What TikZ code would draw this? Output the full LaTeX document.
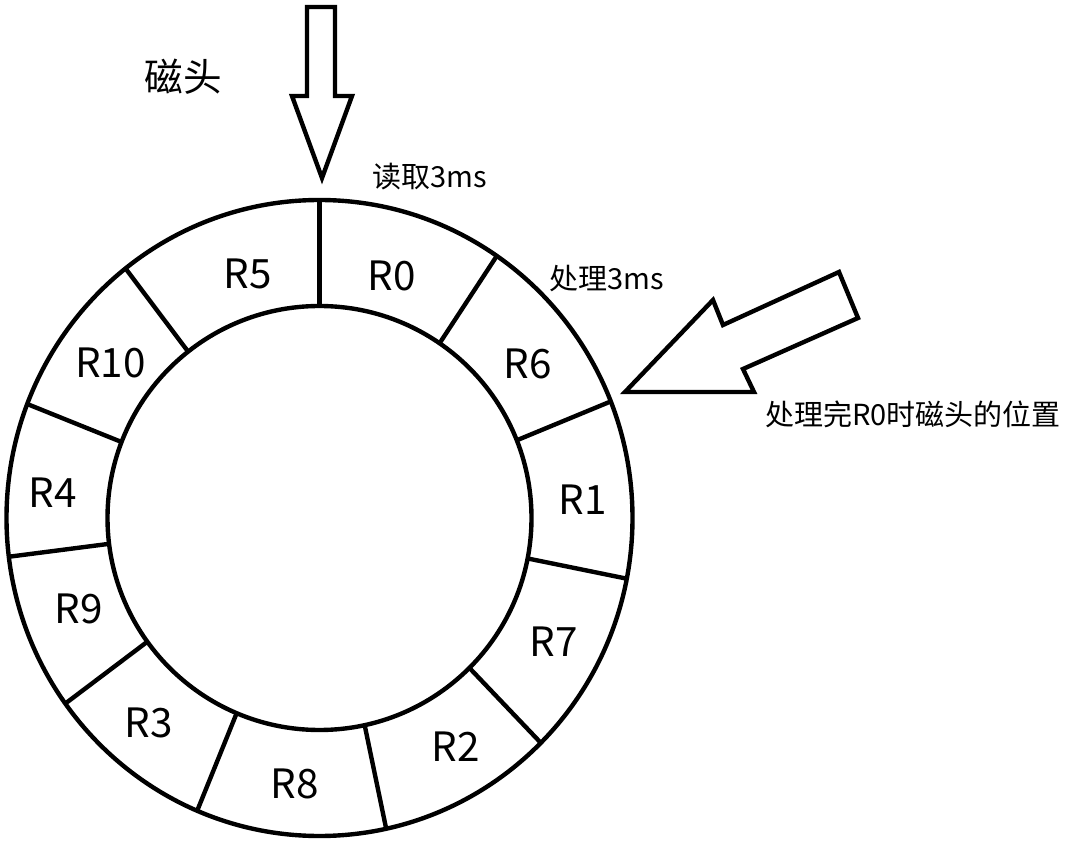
\documentclass[tikz,border=0pt]{standalone}
\usepackage{fontspec}
\newfontfamily\cjk{Noto Sans CJK SC}
\usetikzlibrary{positioning}

\begin{document}
\begin{tikzpicture}[
    font=\cjk,
    % Styles for the disk track
    ring/.style={draw=black, line width=2.5pt},
    divider/.style={draw=black, line width=2.5pt},
    sector/.style={font=\cjk\fontsize{23}{23}\selectfont, inner sep=0pt},
    note/.style={font=\cjk\fontsize{16.5}{16.5}\selectfont, inner sep=0pt},
    title/.style={font=\cjk\fontsize{22}{22}\selectfont, inner sep=0pt},
    blockarrow/.style={draw=black, line width=2.5pt, fill=white, line join=miter}
]
\useasboundingbox (0,0) rectangle (21.3,16.88);

% ----------------------------------------------------
% Track ring with eleven sectors
% ----------------------------------------------------
\begin{scope}[shift={(6.39,6.52)}]
    \draw[ring] (0,0) ellipse [x radius=6.26, y radius=6.36];
    \draw[ring] (0,0) circle [radius=4.24];
    \foreach \a in {90, 55.5, 21.5, -11, -45, -77.7, -113, -144.3, 187, 159, 128.3}
        \draw[divider] (\a:4.24) -- (\a:6.26 and 6.36);
\end{scope}

% Sector labels
\node[sector] (r0) at (7.83, 11.36) {R0};
\node[sector] (r6) at (10.56, 9.60) {R6};
\node[sector] (r1) at (11.65, 6.88) {R1};
\node[sector] (r7) at (11.08, 4.04) {R7};
\node[sector] (r2) at (9.12, 1.94) {R2};
\node[sector] (r8) at (5.90, 1.20) {R8};
\node[sector] (r3) at (2.98, 2.42) {R3};
\node[sector] (r9) at (1.58, 4.70) {R9};
\node[sector] (r4) at (1.05, 7.02) {R4};
\node[sector] (r10) at (2.21, 9.63) {R10};
\node[sector] (r5) at (4.95, 11.40) {R5};

% ----------------------------------------------------
% Head positions
% ----------------------------------------------------
\node[title] (head) at (3.66, 15.34) {磁头};
\node[note] (read) at (8.60, 13.34) {读取3ms};
\node[note] (proc) at (12.14, 11.30) {处理3ms};
\node[note] (after) at (18.26, 8.60) {处理完R0时磁头的位置};

% Head above R0
\draw[blockarrow] (6.14,16.74) -- (6.70,16.74) -- (6.70,14.96) -- (7.04,14.96)
    -- (6.44,13.32) -- (5.84,14.96) -- (6.14,14.96) -- cycle;

% Head after processing R0
\draw[blockarrow] (12.50,9.04) -- (14.26,10.88) -- (14.46,10.38) -- (16.78,11.44)
    -- (17.16,10.52) -- (14.86,9.50) -- (15.08,9.04) -- cycle;

\end{tikzpicture}
\end{document}
